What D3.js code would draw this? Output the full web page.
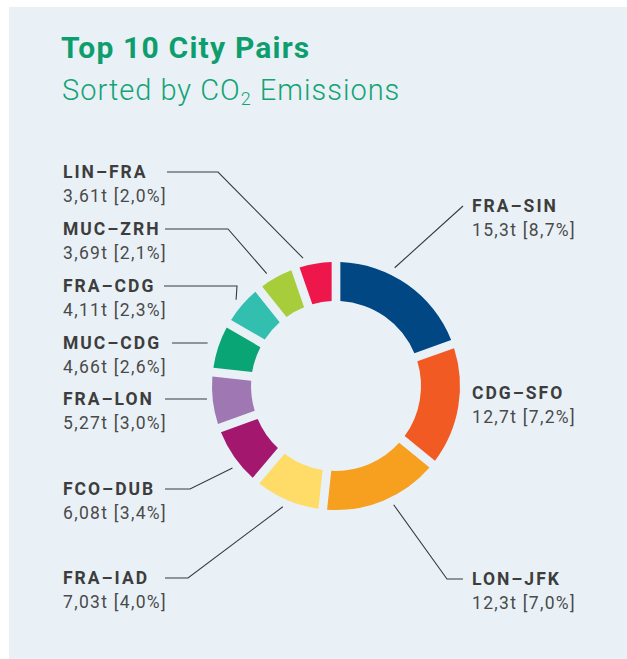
<!DOCTYPE html>
<html>
<head>
<meta charset="utf-8">
<script src="https://cdn.jsdelivr.net/npm/d3@7"></script>
<style>
  html, body { margin: 0; padding: 0; background: #ffffff; }
  svg { display: block; }
  text { font-family: Roboto, "Noto Sans", sans-serif; }
</style>
</head>
<body>
<svg id="chart" width="627" height="659"></svg>
<script>
// ---- data ----
const routes   = ["FRA–SIN", "CDG–SFO", "LON–JFK", "FRA–IAD", "FCO–DUB", "FRA–LON", "MUC–CDG", "FRA–CDG", "MUC–ZRH", "LIN–FRA"];
const tonnes   = [15.3, 12.7, 12.3, 7.03, 6.08, 5.27, 4.66, 4.11, 3.69, 3.61];
const shares   = [8.7, 7.2, 7.0, 4.0, 3.4, 3.0, 2.6, 2.3, 2.1, 2.0];
const colours  = ["#004784", "#f15a22", "#f79f1e", "#ffdb68", "#a3186e", "#9e77b3", "#0aa574", "#33bfaf", "#a8cd3a", "#ee174b"];

// ---- label layout (annotation placement) ----
// side, text x, name baseline y, horizontal leader start x, elbow x, leader angle nudge (deg)
const labelLayout = [
  {side: "R", x: 472, y: 212, lx: 463, ex: 463, nudge: -8.7, line: true},
  {side: "R", x: 472, y: 399, lx: null, ex: null, nudge: 0, line: false},
  {side: "R", x: 472, y: 585, lx: 463, ex: 447, nudge: -3.5, line: true},
  {side: "L", x: 63,  y: 584, lx: 165, ex: 188, nudge: 0.6, line: true},
  {side: "L", x: 63,  y: 495, lx: 165, ex: 190, nudge: -3.5, line: true},
  {side: "L", x: 63,  y: 405, lx: 165, ex: null, nudge: -5.6, line: true},
  {side: "L", x: 63,  y: 349, lx: 172, ex: null, nudge: -4.9, line: true},
  {side: "L", x: 63,  y: 292, lx: 164, ex: 237, nudge: 0, line: true},
  {side: "L", x: 63,  y: 235, lx: 165, ex: 228, nudge: -2.8, line: true},
  {side: "L", x: 63,  y: 178, lx: 167, ex: 218, nudge: -4.9, line: true}
];

const W = 627, H = 659;
const cx = 336, cy = 386, rOuter = 124, rInner = 85, rLead = 132;

const svg = d3.select("#chart");

// panel
svg.append("rect").attr("x", 9).attr("y", 7).attr("width", W - 9).attr("height", H - 7).attr("fill", "#e9f1f7");

// titles
svg.append("text").attr("x", 61).attr("y", 58)
  .attr("fill", "#0e9e6e").attr("font-size", 30).attr("font-weight", 700)
  .attr("letter-spacing", 1.2)
  .text("Top 10 City Pairs");
const sub = svg.append("text").attr("x", 62).attr("y", 100)
  .attr("fill", "#14a374").attr("font-size", 29).attr("font-weight", 300)
  .attr("letter-spacing", 1.0);
sub.append("tspan").text("Sorted by CO");
sub.append("tspan").attr("font-size", 18).attr("dy", 5).text("2");
sub.append("tspan").attr("dy", -5).text(" Emissions");

// pie
const data = routes.map((r, i) => ({route: r, value: tonnes[i], share: shares[i], colour: colours[i], layout: labelLayout[i]}));
const pie = d3.pie().value(d => d.value).sort(null).padAngle(0.058);
const arcs = pie(data);
const arc = d3.arc().innerRadius(rInner).outerRadius(rOuter).padRadius(Math.sqrt(rInner*rInner + rOuter*rOuter));

const g = svg.append("g").attr("transform", `translate(${cx},${cy})`);
g.selectAll("path.slice").data(arcs).join("path")
  .attr("class", "slice")
  .attr("d", arc)
  .attr("fill", d => d.data.colour);

// labels
const fmtT = v => d3.format(".3")(v).replace(".", ",") + "t";
const fmtP = v => d3.format(".1f")(v).replace(".", ",") + "%";

arcs.forEach(a => {
  const L = a.data.layout;
  const mid = (a.startAngle + a.endAngle) / 2 + L.nudge * Math.PI / 180;
  const px = cx + rLead * Math.sin(mid);
  const py = cy - rLead * Math.cos(mid);
  const ly = L.y - 6;

  if (L.line) {
    let pts;
    if (L.ex === null) {
      pts = [[L.lx, ly], [px, ly]];
    } else if (L.side === "R" && L.ex === L.lx) {
      pts = [[L.lx, ly], [px, py]];
    } else {
      pts = [[L.lx, ly], [L.ex, ly], [px, py]];
    }
    svg.append("path")
      .attr("d", d3.line()(pts))
      .attr("fill", "none").attr("stroke", "#3a3a3a").attr("stroke-width", 1.1);
  }

  svg.append("text").attr("x", L.x).attr("y", L.y)
    .attr("fill", "#3d3d3d").attr("font-size", 17.5).attr("font-weight", 700)
    .attr("letter-spacing", 2.0)
    .text(a.data.route);
  svg.append("text").attr("x", L.x).attr("y", L.y + 24)
    .attr("fill", "#4a4a4a").attr("font-size", 17.5).attr("font-weight", 400)
    .attr("letter-spacing", 1.3)
    .text(`${fmtT(a.data.value)} [${fmtP(a.data.share)}]`);
});
</script>
</body>
</html>
